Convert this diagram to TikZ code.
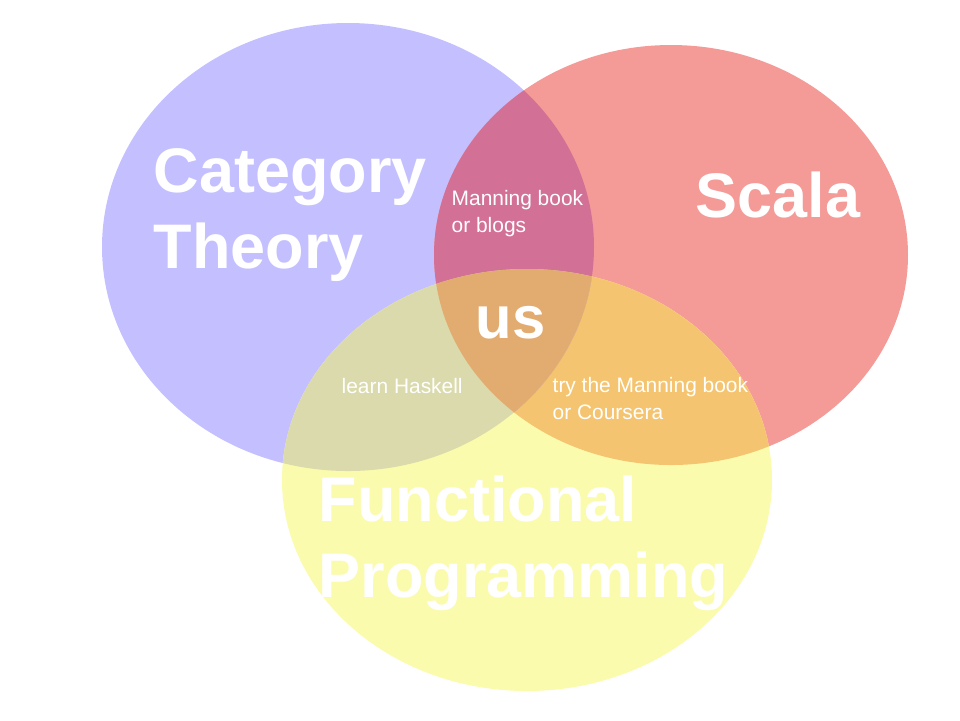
\documentclass[tikz,border=0pt]{standalone}
\usepackage{fontspec}
\setmainfont{Liberation Sans}
\usepackage{tikz}

\definecolor{ctblue}{HTML}{C4C0FF}
\definecolor{scalared}{HTML}{F49A97}
\definecolor{fpyellow}{HTML}{FBFBAE}
\definecolor{bluered}{HTML}{D27096}
\definecolor{blueyellow}{HTML}{DADAAD}
\definecolor{redyellow}{HTML}{F4C470}
\definecolor{allthree}{HTML}{E2AC70}

\newcommand\ctset{(348,247) ellipse [x radius=246, y radius=224]}
\newcommand\scalaset{(671,255) ellipse [x radius=237, y radius=210]}
\newcommand\fpset{(527,480) ellipse [x radius=245, y radius=211]}

\begin{document}
\begin{tikzpicture}[x=0.01cm, y=-0.01cm,
			every node/.style = {inner sep=0pt, text=white,
				align=left, anchor=base west},
			bigtext/.style = {font=\fontsize{17.9}{21.4}\selectfont\bfseries},
			smalltext/.style = {font=\fontsize{5.95}{7.4}\selectfont}]
			\useasboundingbox (0,0) rectangle (960,720);
			% the three sets
			\fill[ctblue] \ctset;
			\fill[scalared] \scalaset;
			\fill[fpyellow] \fpset;
			% overlaps
			\begin{scope}
				\clip \scalaset;
				\fill[redyellow] \fpset;
			\end{scope}
			\begin{scope}
				\clip \ctset;
				\fill[bluered] \scalaset;
				\fill[blueyellow] \fpset;
				\clip \scalaset;
				\fill[allthree] \fpset;
			\end{scope}
			% labels (base = last line)
			\node[bigtext] (category) at (153,268) {Category\\Theory};
			\node[bigtext] (scala) at (695,217) {Scala};
			\node[bigtext] (functional) at (318,597) {Functional\\Programming};
			\node[font=\fontsize{17}{20}\selectfont\bfseries] (us) at (475,338) {us};
			\node[smalltext] (manning) at (451,232) {Manning book\\or blogs};
			\node[smalltext] (haskell) at (341,393) {learn Haskell};
			\node[smalltext] (coursera) at (552,419) {try the Manning book\\or Coursera};
			\end{tikzpicture}
\end{document}
